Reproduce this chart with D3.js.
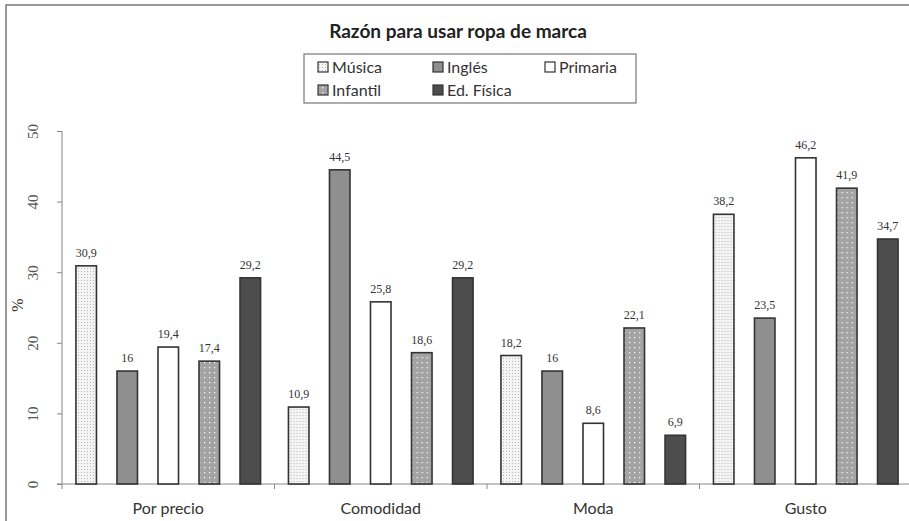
<!DOCTYPE html>
<html>
<head>
<meta charset="utf-8">
<script src="https://cdn.jsdelivr.net/npm/d3@7"></script>
<style>
  html, body { margin: 0; padding: 0; background: #fff; }
  svg { display: block; }
</style>
</head>
<body>
<svg id="chart" width="909" height="521"></svg>
<script>
// Categories and series
const categories = ["Por precio", "Comodidad", "Moda", "Gusto"];
const seriesNames = ["Música", "Inglés", "Primaria", "Infantil", "Ed. Física"];
const musica   = [30.9, 10.9, 18.2, 38.2];
const ingles   = [16, 44.5, 16, 23.5];
const primaria = [19.4, 25.8, 8.6, 46.2];
const infantil = [17.4, 18.6, 22.1, 41.9];
const edFisica = [29.2, 29.2, 6.9, 34.7];
const yTicks = [0, 10, 20, 30, 40, 50];
const title = "Razón para usar ropa de marca";

const seriesValues = [musica, ingles, primaria, infantil, edFisica];
const fills = ["url(#dotsLight)", "#8f8f8f", "#ffffff", "url(#dotsGray)", "#4d4d4d"];

const svg = d3.select("#chart");
const sansFont = "Lato, 'Open Sans', sans-serif";
const serifFont = "'Liberation Serif', 'DejaVu Serif', serif";

// Patterns
const defs = svg.append("defs");
const p1 = defs.append("pattern").attr("id", "dotsLight")
  .attr("patternUnits", "userSpaceOnUse").attr("width", 3).attr("height", 3);
p1.append("rect").attr("width", 3).attr("height", 3).attr("fill", "#f4f4f4");
p1.append("rect").attr("x", 1).attr("y", 1).attr("width", 1).attr("height", 1).attr("fill", "#b8b8b8");
const p2 = defs.append("pattern").attr("id", "dotsGray")
  .attr("patternUnits", "userSpaceOnUse").attr("width", 5).attr("height", 5);
p2.append("rect").attr("width", 5).attr("height", 5).attr("fill", "#a3a3a3");
p2.append("rect").attr("x", 2).attr("y", 2).attr("width", 1.3).attr("height", 1.3).attr("fill", "#f2f2f2");

// Outer frame
svg.append("rect").attr("x", 6).attr("y", 5).attr("width", 940).attr("height", 560)
  .attr("fill", "none").attr("stroke", "#777").attr("stroke-width", 1.5);

// Scales
const x0 = d3.scaleBand().domain(categories).range([62, 912]).padding(0);
const x1 = d3.scaleBand().domain(seriesNames).range([0, x0.bandwidth()])
  .paddingInner(0.5).paddingOuter(0.34);
const y = d3.scaleLinear().domain([0, 50]).range([484, 131]);

// Title
svg.append("text").attr("x", 458).attr("y", 38).attr("text-anchor", "middle")
  .attr("font-family", sansFont).attr("font-weight", "bold").attr("font-size", 19)
  .attr("fill", "#222").text(title);

// Legend
const lg = svg.append("g");
lg.append("rect").attr("x", 304).attr("y", 54).attr("width", 332).attr("height", 49)
  .attr("fill", "#fff").attr("stroke", "#777").attr("stroke-width", 1.2);
const legendPos = [[318, 67], [433, 67], [545, 67], [318, 90], [433, 90]];
seriesNames.forEach((name, i) => {
  const [lx, ly] = legendPos[i];
  lg.append("rect").attr("x", lx).attr("y", ly - 5).attr("width", 10).attr("height", 10)
    .attr("fill", fills[i]).attr("stroke", "#333").attr("stroke-width", 1.2);
  lg.append("text").attr("x", lx + 14).attr("y", ly + 5.5)
    .attr("font-family", sansFont).attr("font-size", 16).attr("fill", "#333").text(name);
});

// Y axis
const yAxis = svg.append("g").attr("transform", "translate(62,0)")
  .call(d3.axisLeft(y).tickValues(yTicks).tickSize(5).tickFormat(d3.format("d")));
yAxis.select(".domain").attr("stroke", "#888").attr("d", "M0,131V489");
yAxis.selectAll(".tick line").attr("stroke", "#888");
yAxis.selectAll(".tick text")
  .attr("font-family", serifFont).attr("font-size", 15).attr("fill", "#555")
  .attr("x", null).attr("dy", null)
  .attr("transform", "translate(-27,0) rotate(-90)")
  .attr("text-anchor", "middle").attr("dominant-baseline", "middle");

svg.append("text").attr("transform", "translate(19,305) rotate(-90)")
  .attr("text-anchor", "middle").attr("dominant-baseline", "middle")
  .attr("font-family", serifFont).attr("font-size", 16).attr("fill", "#333").text("%");

// X axis
const xAxis = svg.append("g").attr("transform", "translate(0,484)")
  .call(d3.axisBottom(x0).tickSize(0).tickSizeOuter(0));
xAxis.select(".domain").attr("stroke", "#888").attr("d", "M57,0H912");
xAxis.selectAll(".tick text")
  .attr("font-family", sansFont).attr("font-size", 16).attr("fill", "#333").attr("dy", null).attr("y", 30);
// Category separators
svg.append("g").selectAll("line")
  .data(categories.slice(1))
  .join("line")
  .attr("x1", d => x0(d)).attr("x2", d => x0(d))
  .attr("y1", 484).attr("y2", 489)
  .attr("stroke", "#888");

// Bars
const groups = svg.append("g").selectAll("g")
  .data(categories)
  .join("g")
  .attr("transform", d => `translate(${x0(d)},0)`);

groups.each(function (cat, ci) {
  const g = d3.select(this);
  seriesNames.forEach((s, si) => {
    const v = seriesValues[si][ci];
    g.append("rect")
      .attr("x", x1(s)).attr("width", x1.bandwidth())
      .attr("y", y(v)).attr("height", y(0) - y(v))
      .attr("fill", fills[si]).attr("stroke", "#333").attr("stroke-width", 1.6);
    g.append("text")
      .attr("x", x1(s) + x1.bandwidth() / 2).attr("y", y(v) - 9)
      .attr("text-anchor", "middle")
      .attr("font-family", serifFont).attr("font-size", 12).attr("fill", "#333")
      .text(String(v).replace(".", ","));
  });
});
</script>
</body>
</html>
